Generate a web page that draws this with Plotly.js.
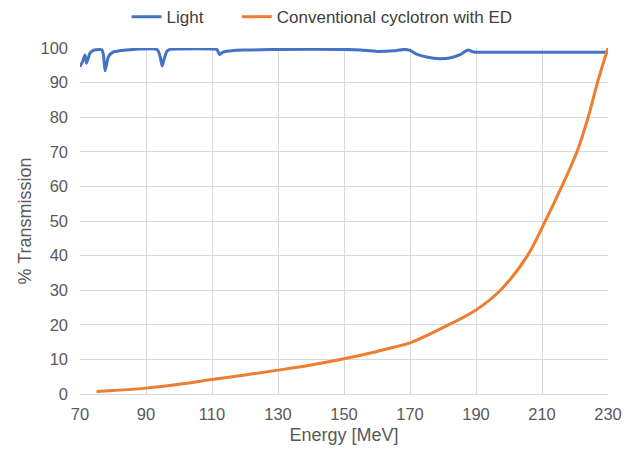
<!DOCTYPE html>
<html><head><meta charset="utf-8">
<script src="https://cdn.plot.ly/plotly-3.0.1.min.js"></script>
<style>html,body{margin:0;padding:0;background:#fff;}#chart{width:634px;height:450px;}</style>
</head><body><div id="chart"></div>
<script>
var lightEnergy = [70, 70.8, 71.5, 72, 73, 74, 75, 76.6, 77.1, 77.6, 78.6, 80, 82, 85, 88, 93, 93.6, 94.3, 94.9, 95.5, 96.3, 97.3, 100, 110, 111.5, 112.3, 113.3, 116.5, 120, 125, 130, 150, 155, 160, 165, 168.5, 170, 172, 175, 179, 182, 185, 187.6, 189, 190, 230];
var lightValues = [94.6, 96.1, 98, 95.6, 98.5, 99.3, 99.5, 99.5, 98, 93.4, 97.5, 98.8, 99.2, 99.5, 99.7, 99.7, 99.3, 97.5, 94.8, 96.8, 99.0, 99.6, 99.7, 99.7, 99.6, 98.1, 98.8, 99.3, 99.4, 99.5, 99.6, 99.6, 99.4, 99.0, 99.2, 99.6, 99.3, 98.2, 97.4, 96.9, 97.1, 98.0, 99.4, 98.9, 98.8, 98.8];
var convEnergy = [75, 80, 90, 100, 110, 120, 130, 140, 150, 160, 165, 170, 180, 190, 197.4, 205.6, 211, 216, 220.6, 224, 226.8, 230];
var convValues = [0.7, 1.0, 1.7, 2.8, 4.2, 5.5, 6.9, 8.4, 10.2, 12.3, 13.5, 14.8, 19.2, 24.3, 30, 40, 50, 60, 70, 80, 90, 100];
var xTicks = [70, 90, 110, 130, 150, 170, 190, 210, 230];
var yTicks = [0, 10, 20, 30, 40, 50, 60, 70, 80, 90, 100];

var font = "Liberation Sans, Arial, sans-serif";
var pad = '\u00a0\u00a0\u00a0\u00a0\u00a0\u00a0';
var data = [
  {x: lightEnergy, y: lightValues, type: 'scatter', mode: 'lines', name: 'Light' + pad,
   line: {color: '#4472C4', width: 3, shape: 'spline', smoothing: 0.5}},
  {x: convEnergy, y: convValues, type: 'scatter', mode: 'lines', name: 'Conventional cyclotron with ED',
   line: {color: '#ED7D31', width: 3, shape: 'spline', smoothing: 1}}
];
var layout = {
  width: 634, height: 450,
  margin: {l: 80, r: 26, t: 48, b: 56},
  paper_bgcolor: '#fff', plot_bgcolor: '#fff',
  font: {family: font, color: '#595959', size: 16.5},
  showlegend: true,
  legend: {orientation: 'h', xref: 'container', yref: 'container', x: 0.508, xanchor: 'center',
           y: 0.962, yanchor: 'middle',
           font: {family: font, size: 17, color: '#404040'}, itemwidth: 30, tracegroupgap: 0},
  xaxis: {range: [70, 230], tickvals: xTicks, ticktext: xTicks.map(String),
          showgrid: true, gridcolor: '#d9d9d9', gridwidth: 1, zeroline: false,
          showline: true, linecolor: '#d9d9d9', linewidth: 1, ticks: '', ticklen: 0,
          ticklabelstandoff: 5,
          tickfont: {size: 16.5, color: '#595959'},
          title: {text: 'Energy [MeV]', font: {size: 18, color: '#595959'}, standoff: 6}},
  yaxis: {range: [0, 100], tickvals: yTicks, ticktext: yTicks.map(String),
          showgrid: true, gridcolor: '#d9d9d9', gridwidth: 1, zeroline: false,
          showline: false, ticks: '', ticklabelstandoff: 11,
          tickfont: {size: 16.5, color: '#595959'},
          title: {text: '% Transmission', font: {size: 18, color: '#595959'}, standoff: 4}}
};
Plotly.newPlot('chart', data, layout, {displayModeBar: false, staticPlot: true});
</script></body></html>
